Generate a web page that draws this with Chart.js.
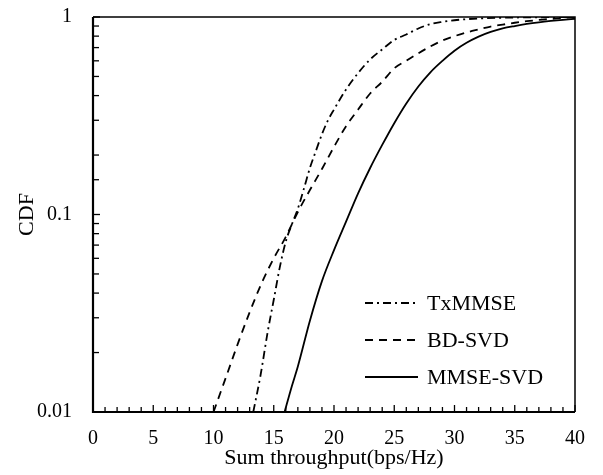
<!DOCTYPE html>
<html>
<head>
<meta charset="utf-8">
<script src="https://cdn.jsdelivr.net/npm/chart.js@4/dist/chart.umd.min.js"></script>
<style>
  html, body { margin: 0; padding: 0; background: #fff; }
  #wrap { width: 603px; height: 475px; }
</style>
</head>
<body>
<div id="wrap"><canvas id="grafico" width="603" height="475"></canvas></div>
<script>
// valores (throughput em bps/Hz, CDF)
const txX = [13.3, 13.9, 14.5, 15, 15.5, 16, 16.5, 17, 17.5, 18, 18.5, 19, 19.5, 20, 21, 22, 23, 24, 25, 26, 27, 28, 29, 30, 31, 32, 34, 36, 38, 40];
const txY = [0.01, 0.0153, 0.0255, 0.037, 0.054, 0.073, 0.089, 0.107, 0.135, 0.172, 0.21, 0.255, 0.3, 0.34, 0.43, 0.52, 0.61, 0.685, 0.765, 0.815, 0.875, 0.92, 0.945, 0.963, 0.975, 0.983, 0.991, 0.996, 0.998, 1.0];

const bdX = [10, 11, 12, 13, 14, 15, 16, 17, 18, 19, 20, 21, 22, 23, 24, 25, 26, 27, 28, 29, 30, 31, 32, 33, 34, 35, 36, 37, 38, 39, 40];
const bdY = [0.01, 0.0148, 0.022, 0.032, 0.045, 0.06, 0.077, 0.103, 0.133, 0.17, 0.22, 0.28, 0.34, 0.41, 0.47, 0.55, 0.6, 0.655, 0.71, 0.76, 0.8, 0.835, 0.865, 0.895, 0.915, 0.935, 0.952, 0.966, 0.978, 0.988, 1.0];

const mmX = [15.9, 16.5, 17, 18, 19, 20, 21, 22, 23, 24, 25, 26, 27, 28, 29, 30, 31, 32, 33, 34, 35, 36, 37, 38, 39, 40];
const mmY = [0.01, 0.0135, 0.017, 0.029, 0.046, 0.066, 0.092, 0.128, 0.172, 0.225, 0.29, 0.365, 0.445, 0.525, 0.6, 0.675, 0.74, 0.795, 0.84, 0.875, 0.9, 0.922, 0.94, 0.955, 0.968, 0.98];

const nomes = ["TxMMSE", "BD-SVD", "MMSE-SVD"];
const tracos = [[8, 4, 2, 4], [8, 6], []];
const rotulosY = [0.01, 0.1, 1];

const fonteSerif = "'Liberation Serif', 'Times New Roman', serif";

function pontos(xs, ys) {
    return xs.map((x, i) => ({ x: x, y: ys[i] }));
}

function ehDecada(v) {
    const l = Math.log10(v);
    return Math.abs(l - Math.round(l)) < 1e-6;
}

// caixa, ticks internos e legenda dentro do gráfico
const pluginMoldura = {
    id: 'moldura',
    afterDraw(chart) {
        const ctx = chart.ctx;
        const a = chart.chartArea;
        const sx = chart.scales.x;
        const sy = chart.scales.y;
        ctx.save();
        ctx.strokeStyle = '#000';

        // ticks do eixo x (para dentro)
        ctx.lineWidth = 1.3;
        sx.ticks.forEach(t => {
            const px = sx.getPixelForValue(t.value);
            const len = t.value % 5 === 0 ? 7 : 5;
            ctx.beginPath();
            ctx.moveTo(px, a.bottom);
            ctx.lineTo(px, a.bottom - len);
            ctx.stroke();
        });
        // ticks do eixo y (log)
        sy.ticks.forEach(t => {
            const py = sy.getPixelForValue(t.value);
            const len = ehDecada(t.value) ? 7 : 6;
            ctx.beginPath();
            ctx.moveTo(a.left, py);
            ctx.lineTo(a.left + len, py);
            ctx.stroke();
        });

        // moldura
        ctx.lineWidth = 1.5;
        ctx.beginPath();
        ctx.moveTo(a.left, a.top);
        ctx.lineTo(a.right, a.top);
        ctx.lineTo(a.right, a.bottom);
        ctx.stroke();
        ctx.lineWidth = 2.2;
        ctx.beginPath();
        ctx.moveTo(a.left, a.top);
        ctx.lineTo(a.left, a.bottom);
        ctx.lineTo(a.right, a.bottom);
        ctx.stroke();

        // legenda
        const x0 = a.left + 272, x1 = a.left + 325, xt = a.left + 334;
        ctx.font = "22px " + fonteSerif;
        ctx.fillStyle = '#000';
        ctx.textBaseline = 'middle';
        chart.data.datasets.forEach((ds, i) => {
            const yy = a.top + 286 + i * 37;
            ctx.lineWidth = 1.8;
            ctx.setLineDash(ds.borderDash);
            ctx.beginPath();
            ctx.moveTo(x0, yy);
            ctx.lineTo(x1, yy);
            ctx.stroke();
            ctx.setLineDash([]);
            ctx.fillText(ds.label, xt, yy + 1);
        });
        ctx.restore();
    }
};

const ctx = document.getElementById('grafico');
new Chart(ctx, {
    type: 'line',
    data: {
        datasets: [
            { label: nomes[0], data: pontos(txX, txY), borderDash: tracos[0] },
            { label: nomes[1], data: pontos(bdX, bdY), borderDash: tracos[1] },
            { label: nomes[2], data: pontos(mmX, mmY), borderDash: tracos[2] }
        ].map(d => Object.assign(d, {
            borderColor: '#000',
            borderWidth: 1.8,
            pointRadius: 0,
            fill: false,
            cubicInterpolationMode: 'monotone',
            clip: 0
        }))
    },
    options: {
        responsive: false,
        animation: false,
        layout: { padding: { top: 17, right: 28, left: 0, bottom: 0 } },
        plugins: { legend: { display: false }, tooltip: { enabled: false } },
        scales: {
            x: {
                type: 'linear',
                min: 0,
                max: 40,
                afterFit: s => { s.height = 63; s.paddingLeft = 0; s.paddingRight = 0; },
                ticks: {
                    stepSize: 1,
                    autoSkip: false,
                    maxRotation: 0,
                    padding: 15,
                    color: '#000',
                    font: { family: fonteSerif, size: 20 },
                    callback: v => (v % 5 === 0 ? String(v) : '')
                },
                grid: { display: false, drawTicks: false },
                border: { display: false },
                title: {
                    display: true,
                    text: 'Sum throughput(bps/Hz)',
                    color: '#000',
                    font: { family: fonteSerif, size: 22 },
                    padding: { top: 0, bottom: 4 }
                }
            },
            y: {
                type: 'logarithmic',
                min: 0.01,
                max: 1,
                afterFit: s => { s.width = 93; s.paddingTop = 0; s.paddingBottom = 0; },
                ticks: {
                    autoSkip: false,
                    padding: 21,
                    color: '#000',
                    font: { family: fonteSerif, size: 20 },
                    callback: v => (rotulosY.some(r => Math.abs(r - v) < 1e-9) ? String(v) : '')
                },
                grid: { display: false, drawTicks: false },
                border: { display: false },
                title: {
                    display: true,
                    text: 'CDF',
                    color: '#000',
                    font: { family: fonteSerif, size: 22 },
                    padding: { top: 14, bottom: 0 }
                }
            }
        }
    },
    plugins: [pluginMoldura]
});
</script>
</body>
</html>
